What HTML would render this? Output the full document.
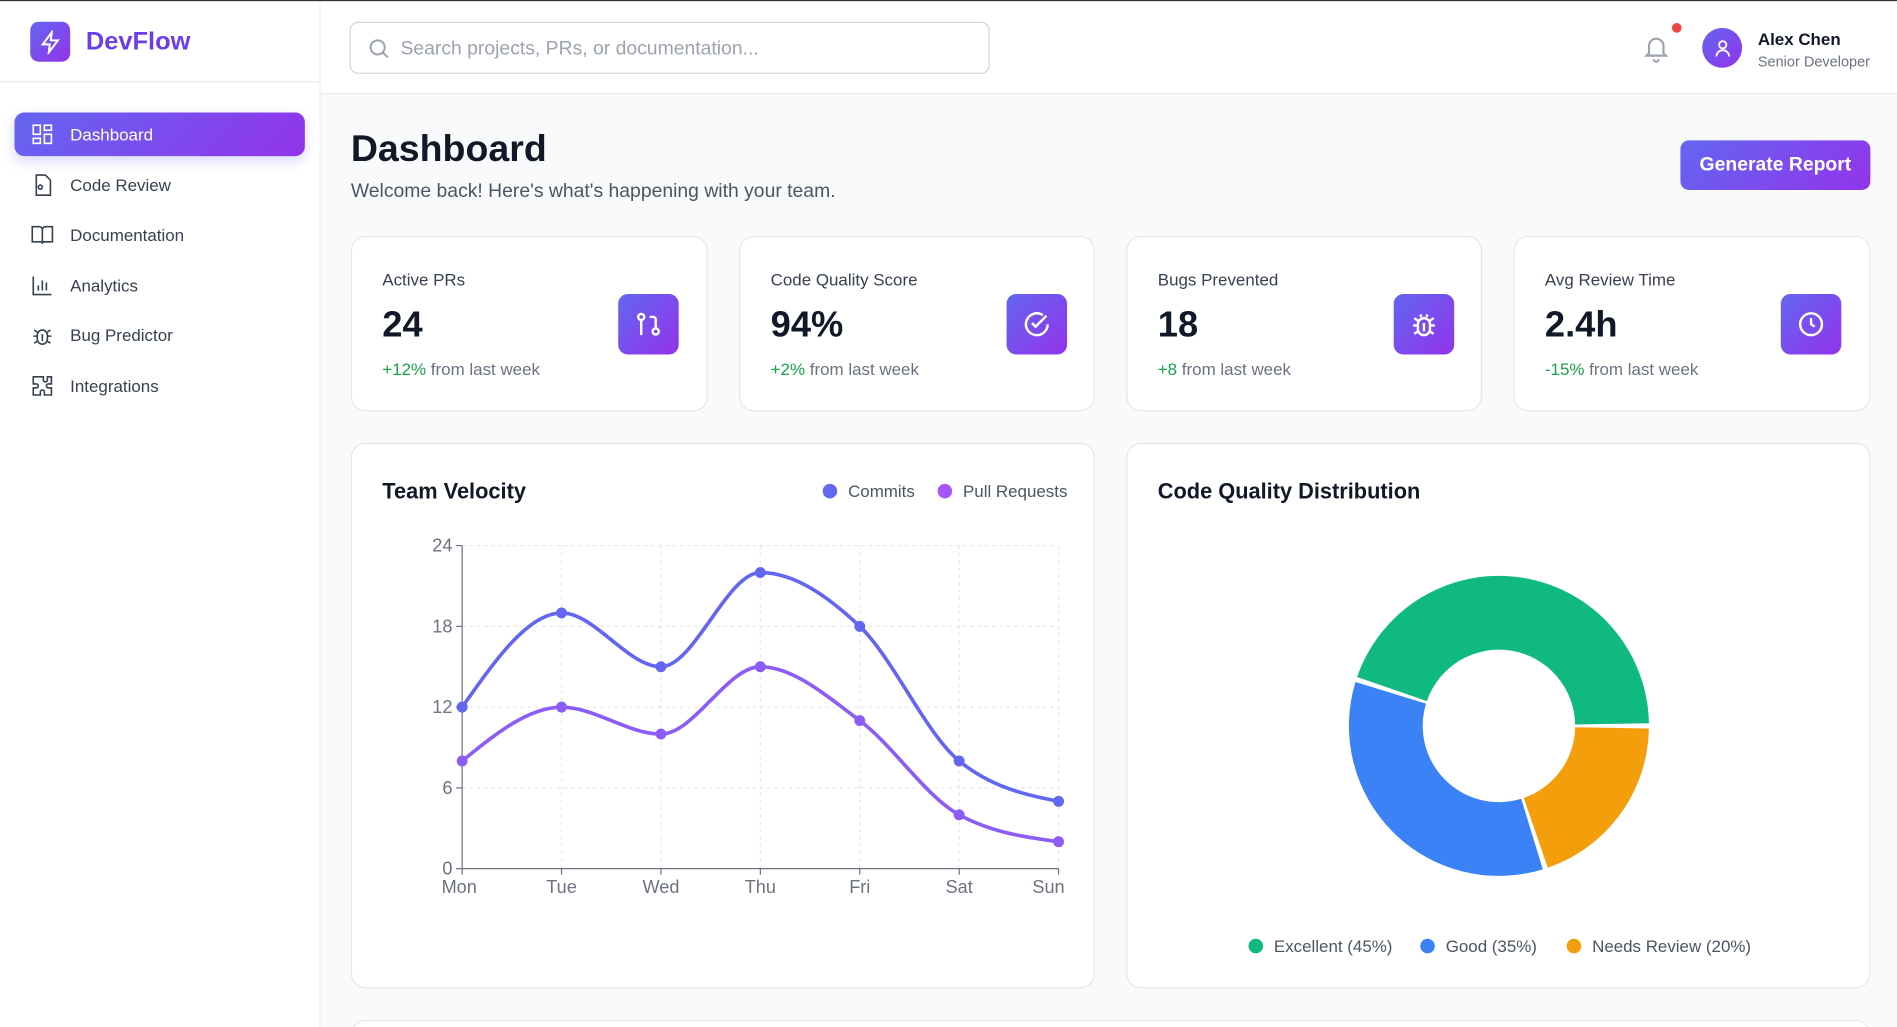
<!DOCTYPE html>
<html><head><meta charset="utf-8"><style>
*{box-sizing:border-box;margin:0;padding:0}
html,body{width:1897px;height:1027px;overflow:hidden;background:#f9fafb;font-family:"Liberation Sans",sans-serif}
#outer{position:relative;width:1897px;height:1027px;overflow:hidden}
#wrap{position:absolute;left:0;top:0;width:1568px;height:849px;overflow:hidden;transform:scale(1.2098);transform-origin:0 0;background:#f9fafb;border-top:1px solid #333}
.abs{position:absolute}
.grad{background:linear-gradient(135deg,#6366f1,#9333ea)}
.side{left:0;top:0;width:265px;height:849px;background:#fff;border-right:1px solid #eef0f3}
.nav{position:absolute;left:12px;width:240px;height:36px;border-radius:8px;display:flex;align-items:center;padding-left:13px;font-size:14px;color:#374151}
.nav svg{width:20px;height:20px;margin-right:13px;fill:none;stroke:#374151;stroke-width:1.6}
.card{position:absolute;background:#fff;border:1px solid #e5e7eb;border-radius:12px}
.lbl{position:absolute;left:25px;top:27px;font-size:14px;color:#374151}
.val{position:absolute;left:25px;top:56px;font-size:30px;font-weight:bold;color:#111827}
.chg{position:absolute;left:25px;top:101px;font-size:14px;color:#6b7280}
.chg b{color:#16a34a;font-weight:normal}
.ic{position:absolute;left:220px;top:47px;width:50px;height:50px;border-radius:8px;display:flex;align-items:center;justify-content:center}
.ic svg{width:24px;height:24px;fill:none;stroke:#fff;stroke-width:2}
.ttl{position:absolute;left:25px;top:29px;font-size:18px;color:#111827;font-weight:600}
</style></head><body>
<div id="outer">
<div id="wrap">
<div class="abs side">
  <div class="abs grad" style="left:25px;top:17px;width:33px;height:33px;border-radius:7px;display:flex;align-items:center;justify-content:center"><svg width="20" height="20" viewBox="0 0 24 24" fill="none" stroke="#fff" stroke-width="2"><path d="M13 2L4 14h7l-1 8 9-12h-7z"/></svg></div>
  <div class="abs" style="left:71px;top:22px;font-size:21px;font-weight:bold;color:#6d3ee8">DevFlow</div>
  <div class="abs" style="left:0;top:66px;width:265px;height:1px;background:#e5e7eb"></div>
  <div class="nav grad" style="top:92px;color:#fff;box-shadow:0 4px 10px rgba(99,102,241,.25)"><svg viewBox="0 0 24 24" style="stroke:#fff"><rect x="3" y="3" width="7" height="9"/><rect x="14" y="3" width="7" height="5"/><rect x="14" y="12" width="7" height="9"/><rect x="3" y="16" width="7" height="5"/></svg>Dashboard</div>
  <div class="nav" style="top:134px"><svg viewBox="0 0 24 24"><path d="M6 2h9l5 5v15H6z"/><circle cx="10" cy="14" r="2"/></svg>Code Review</div>
  <div class="nav" style="top:175px"><svg viewBox="0 0 24 24"><path d="M2 4h7a3 3 0 013 3v14a2 2 0 00-2-2H2zM22 4h-7a3 3 0 00-3 3v14a2 2 0 012-2h8z"/></svg>Documentation</div>
  <div class="nav" style="top:217px"><svg viewBox="0 0 24 24"><path d="M3 3v18h18M8 17v-5M12 17V7M16 17v-8"/></svg>Analytics</div>
  <div class="nav" style="top:258px"><svg viewBox="0 0 24 24"><rect x="7" y="7" width="10" height="14" rx="5"/><path d="M3 13h4M17 13h4M4 7l3 2M20 7l-3 2M4 20l3-2M20 20l-3-2M12 11v7"/></svg>Bug Predictor</div>
  <div class="nav" style="top:300px"><svg viewBox="0 0 24 24"><path d="M9 3h4v3a2 2 0 104 0V3h4v7h-3a2 2 0 100 4h3v7h-7v-3a2 2 0 10-4 0v3H3v-7h3a2 2 0 100-4H3V3z"/></svg>Integrations</div>
</div>
<div class="abs" style="left:265px;top:0;width:1303px;height:77px;background:#fff;border-bottom:1px solid #e5e7eb"></div>
<div class="abs" style="left:289px;top:17px;width:529px;height:43px;border:1px solid #d1d5db;border-radius:7px;background:#fff">
  <svg class="abs" style="left:13px;top:11px" width="20" height="20" viewBox="0 0 24 24" fill="none" stroke="#9ca3af" stroke-width="2"><circle cx="11" cy="11" r="7"/><path d="M21 21l-5-5"/></svg>
  <div class="abs" style="left:41px;top:13px;font-size:16px;color:#9ca3af">Search projects, PRs, or documentation...</div>
</div>
<svg class="abs" style="left:1357px;top:26px" width="24" height="26" viewBox="0 0 24 24" fill="none" stroke="#9ca3af" stroke-width="1.8"><path d="M6 16V10a6 6 0 0112 0v6l2 2H4zM10 21a2 2 0 004 0"/></svg>
<div class="abs" style="left:1382px;top:18px;width:8px;height:8px;border-radius:50%;background:#ef4444"></div>
<div class="abs grad" style="left:1407px;top:22px;width:33px;height:33px;border-radius:50%;display:flex;align-items:center;justify-content:center"><svg width="18" height="18" viewBox="0 0 24 24" fill="none" stroke="#fff" stroke-width="2"><circle cx="12" cy="8" r="4"/><path d="M5 21a7 7 0 0114 0"/></svg></div>
<div class="abs" style="left:1453px;top:23px;font-size:14px;font-weight:600;color:#111827">Alex Chen</div>
<div class="abs" style="left:1453px;top:43px;font-size:12px;color:#6b7280">Senior Developer</div>

<div class="abs" style="left:290px;top:104px;font-size:31px;font-weight:bold;color:#111827">Dashboard</div>
<div class="abs" style="left:290px;top:149px;font-size:16px;color:#4b5563">Welcome back! Here's what's happening with your team.</div>
<div class="abs grad" style="left:1389px;top:115px;width:157px;height:41px;border-radius:7px;color:#fff;font-size:16px;font-weight:600;display:flex;align-items:center;justify-content:center">Generate Report</div>

<div class="card" style="left:290px;top:194px;width:295px;height:145px"><div class="lbl">Active PRs</div><div class="val">24</div><div class="chg"><b>+12%</b> from last week</div><div class="ic grad"><svg viewBox="0 0 24 24"><circle cx="6" cy="6" r="2.5"/><circle cx="18" cy="18" r="2.5"/><path d="M6 9v12M13 6h3a2 2 0 012 2v7"/></svg></div></div>
<div class="card" style="left:611px;top:194px;width:294px;height:145px"><div class="lbl">Code Quality Score</div><div class="val">94%</div><div class="chg"><b>+2%</b> from last week</div><div class="ic grad"><svg viewBox="0 0 24 24"><path d="M21 12a9 9 0 11-4-7.5"/><path d="M8 11l3 3 9-9"/></svg></div></div>
<div class="card" style="left:931px;top:194px;width:294px;height:145px"><div class="lbl">Bugs Prevented</div><div class="val">18</div><div class="chg"><b>+8</b> from last week</div><div class="ic grad"><svg viewBox="0 0 24 24"><rect x="7" y="7" width="10" height="14" rx="5"/><path d="M3 13h4M17 13h4M4 7l3 2M20 7l-3 2M4 20l3-2M20 20l-3-2M12 11v7M9 4l1 2M15 4l-1 2"/></svg></div></div>
<div class="card" style="left:1251px;top:194px;width:295px;height:145px"><div class="lbl">Avg Review Time</div><div class="val">2.4h</div><div class="chg"><b>-15%</b> from last week</div><div class="ic grad"><svg viewBox="0 0 24 24"><circle cx="12" cy="12" r="9"/><path d="M12 7v5l3 2"/></svg></div></div>

<div class="card" style="left:290px;top:365px;width:615px;height:451px"><div class="ttl">Team Velocity</div></div>
<div class="card" style="left:931px;top:365px;width:615px;height:451px"><div class="ttl">Code Quality Distribution</div></div>
<div class="card" style="left:290px;top:842px;width:1256px;height:40px"></div>

<svg id="chart" class="abs" style="left:0;top:0" width="1568" height="849" font-family="Liberation Sans, sans-serif"></svg>
</div>
</div>
<script>
const days=['Mon','Tue','Wed','Thu','Fri','Sat','Sun'];
const commits=[12,19,15,22,18,8,5];
const pullRequests=[8,12,10,15,11,4,2];
const yTicks=[0,6,12,18,24];
const qualityLabels=['Excellent (45%)','Good (35%)','Needs Review (20%)'];
const qualityValues=[45,35,20];
const qualityColors=['#10b981','#3b82f6','#f59e0b'];

const NS='http://www.w3.org/2000/svg';
const svg=document.getElementById('chart');
function el(t,a,p){const e=document.createElementNS(NS,t);for(const k in a)e.setAttribute(k,a[k]);(p||svg).appendChild(e);return e;}
const X0=382,X1=875,Y0=717,Y1=450,YMAX=24;
const xs=i=>X0+(X1-X0)*i/(days.length-1);
const ys=v=>Y0-(Y0-Y1)*v/YMAX;

yTicks.forEach(t=>{if(t>0){const g=el('line',{x1:X0,x2:X1,y1:ys(t),y2:ys(t),stroke:'#e5e7eb','stroke-dasharray':'3 3'});

}
const tk=el('line',{x1:X0-5,x2:X0,y1:ys(t),y2:ys(t),stroke:'#6b7280'});


const tx=el('text',{x:X0-8,y:ys(t)+5,'text-anchor':'end','font-size':15,fill:'#6b7280'});tx.textContent=t;

});
days.forEach((d,i)=>{if(i>0){const g=el('line',{x1:xs(i),x2:xs(i),y1:Y1,y2:Y0,stroke:'#e5e7eb','stroke-dasharray':'3 3'});

}
const tk=el('line',{x1:xs(i),x2:xs(i),y1:Y0,y2:Y0+5,stroke:'#6b7280'});


const anchor=i===0?'start':(i===days.length-1?'end':'middle');
const tx=el('text',{x:i===0?X0-17:(i===days.length-1?X1+5:xs(i)),y:Y0+20,'text-anchor':anchor,'font-size':15,fill:'#6b7280'});tx.textContent=d;

});
const ax=el('path',{d:`M${X0} ${Y1}V${Y0}H${X1}`,fill:'none',stroke:'#6b7280'});



function monotone(pts){
  const n=pts.length,dx=[],m=[],t=[];
  for(let i=0;i<n-1;i++){dx[i]=pts[i+1][0]-pts[i][0];m[i]=(pts[i+1][1]-pts[i][1])/dx[i];}
  for(let i=1;i<n-1;i++){if(m[i-1]*m[i]<=0)t[i]=0;else{const h0=dx[i-1],h1=dx[i];const p=(m[i-1]*h1+m[i]*h0)/(h0+h1);t[i]=(Math.sign(m[i-1])+Math.sign(m[i]))*Math.min(Math.abs(m[i-1]),Math.abs(m[i]),0.5*Math.abs(p));}}
  t[0]=(3*m[0]-t[1])/2; t[n-1]=(3*m[n-2]-t[n-2])/2;
  let d=`M${pts[0][0]} ${pts[0][1]}`;
  for(let i=0;i<n-1;i++){const h=dx[i]/3;d+=`C${pts[i][0]+h} ${pts[i][1]+h*t[i]} ${pts[i+1][0]-h} ${pts[i+1][1]-h*t[i+1]} ${pts[i+1][0]} ${pts[i+1][1]}`;}
  return d;
}
function series(vals,color,name){
  const pts=vals.map((v,i)=>[xs(i),ys(v)]);
  const p=el('path',{d:monotone(pts),fill:'none',stroke:color,'stroke-width':3});
  
  
  pts.forEach(q=>{const c=el('circle',{cx:q[0],cy:q[1],r:4.5,fill:color});
  
  });
}
series(pullRequests,'#8b5cf6','pull-requests');
series(commits,'#6366f1','commits');

[['Commits','#6366f1',686],['Pull Requests','#a855f7',781]].forEach(l=>{
  const c=el('circle',{cx:l[2],cy:405,r:6,fill:l[1]});
  
  
  const t=el('text',{x:l[2]+15,y:410,'font-size':14,fill:'#4b5563'});t.textContent=l[0];
  
  
});

const CX=1239,CY=599,RO=124,RI=63,PAD=2;
const total=qualityValues.reduce((a,b)=>a+b,0);
let ang=0;
function pt(r,a){const rad=a*Math.PI/180;return [CX+r*Math.cos(rad),CY-r*Math.sin(rad)];}
qualityValues.forEach((v,i)=>{
  const sweep=v/total*360;const a0=ang+PAD/2,a1=ang+sweep-PAD/2;ang+=sweep;
  const p1=pt(RO,a0),p2=pt(RO,a1),p3=pt(RI,a1),p4=pt(RI,a0);const lg=(a1-a0)>180?1:0;
  const s=el('path',{d:`M${p1[0]} ${p1[1]}A${RO} ${RO} 0 ${lg} 0 ${p2[0]} ${p2[1]}L${p3[0]} ${p3[1]}A${RI} ${RI} 0 ${lg} 1 ${p4[0]} ${p4[1]}Z`,fill:qualityColors[i]});
  
  
});
let lx=[1038,1180,1301];
qualityLabels.forEach((l,i)=>{
  const c=el('circle',{cx:lx[i],cy:781,r:6,fill:qualityColors[i]});
  
  
  const t=el('text',{x:lx[i]+15,y:786,'font-size':14,fill:'#4b5563'});t.textContent=l;
  
  
});
</script>
</body></html>
